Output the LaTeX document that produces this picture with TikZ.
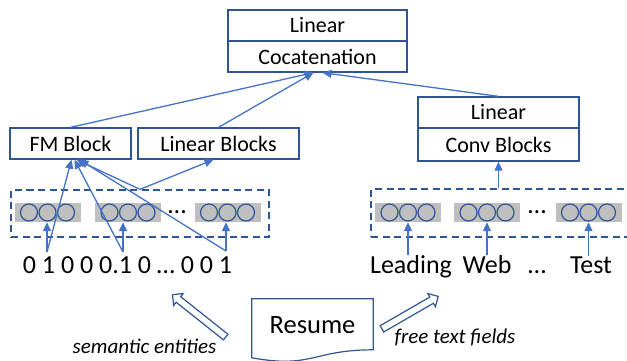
\documentclass[tikz,border=0pt]{standalone}
\usepackage{fontspec}
\setmainfont{Carlito}
\usetikzlibrary{arrows.meta,shapes.arrows,calc}
\definecolor{boxblue}{HTML}{2F5597}
\definecolor{linkblue}{HTML}{4472C4}
\definecolor{cellgray}{HTML}{BFBFBF}
\tikzset{
  block/.style={draw=boxblue, line width=1.3pt, minimum height=31pt, inner sep=0pt, font=\fontsize{22}{26}\selectfont},
  link/.style={draw=linkblue, line width=1.3pt, -{Triangle[width=8pt,length=9pt]}},
  group/.style={fill=cellgray, minimum width=66pt, minimum height=19pt, inner sep=0pt},
  unit/.style={circle, draw=boxblue, line width=1.2pt, minimum size=17pt, inner sep=0pt},
  frame/.style={draw=boxblue, line width=1.3pt, dash pattern=on 7pt off 4.5pt, inner sep=0pt},
  word/.style={font=\fontsize{26}{30}\selectfont, anchor=base, inner sep=0pt},
  note/.style={font=\fontsize{21}{25}\selectfont\itshape, anchor=base, inner sep=0pt},
  hollow/.style={single arrow, draw=boxblue, fill=white, line width=1.2pt, inner sep=3pt, single arrow head extend=4pt, minimum height=68pt}
}
\begin{document}
\begin{tikzpicture}[x=1pt,y=-1pt]
\clip (0,0) rectangle (627,360);
\node[block, minimum width=179pt] (lin1) at (317.5,25.5) {Linear};
\node[block, minimum width=179pt] (concat) at (317.5,56.5) {Cocatenation};
\node[block, minimum width=121pt] (fm) at (70.5,143.5) {FM Block};
\node[block, minimum width=161pt] (linb) at (218.5,143.5) {Linear Blocks};
\node[block, minimum width=161pt] (lin2) at (498.5,112.5) {Linear};
\node[block, minimum width=161pt, minimum height=33pt] (conv) at (498.5,144.5) {Conv Blocks};
\node[frame, minimum width=258pt, minimum height=47pt] (lframe) at (140,213.5) {};
\node[frame, minimum width=269pt, minimum height=48pt] (rframe) at (505.5,213) {};
\foreach \g/\x in {la/47.5, lb/128, lc/227.5, ra/408, rb/487, rc/588.5} {
  \node[group] (\g) at (\x,212.5) {};
  \foreach \d in {-18.5,0,18.5}
    \node[unit] at (\x+\d,212.5) {};
}
\node[word] (ldots) at (177,213) {…};
\node[word] (rdots) at (537,213) {…};
\node[word] (bits) at (127.5,273) {0 1 0 0 0.1 0 … 0 0 1};
\coordinate (b1) at (47,252);
\coordinate (b2) at (123,252);
\coordinate (b3) at (226,251);
\node[word] (lead) at (411,273) {Leading};
\node[word] (web) at (487,273) {Web};
\node[word] (tdots) at (537,273) {…};
\node[word] (test) at (591,273) {Test};
\node[font=\fontsize{26.5}{30}\selectfont, minimum width=121pt, minimum height=52pt, inner sep=0pt] (resume) at (312.5,325) {Resume};
\draw[draw=boxblue, line width=1.2pt] (resume.north west) -- (resume.north east) -- ($(resume.north east)+(0,51)$)
  .. controls ($(resume.north)+(0,51)$) and ($(resume.north)+(0,70)$) .. ($(resume.north west)+(0,59)$) -- cycle;
\node[hollow, rotate=141.5] (sem) at (200.5,317) {};
\node[hollow, rotate=30, minimum height=65pt] (free) at (408.5,313.5) {};
\node[note] (semt) at (144.5,353) {semantic entities};
\node[note] (freet) at (455,343) {free text fields};
\draw[link] (fm.north) -- ([xshift=-4pt]concat.south);
\draw[link] (linb.north) -- ([xshift=-4pt]concat.south);
\draw[link] (lin2.north) -- ([xshift=5pt]concat.south);
\draw[link] (lframe.north) -- ([xshift=6pt]fm.south);
\draw[link] (lframe.north) -- ([xshift=-5pt]linb.south);
\draw[link] (b1) -- ([xshift=1pt]fm.south);
\draw[link] (b2) -- ([xshift=4pt]fm.south);
\draw[link] (b3) -- ([xshift=9pt]fm.south);
\draw[link] (b1) -- (b1 |- la.south);
\draw[link] (b2) -- (b2 |- lb.south);
\draw[link] (b3) -- (b3 |- lc.south);
\draw[link] (ra.south |- lead.north) -- (ra.south);
\draw[link] (rb.south |- web.north) -- (rb.south);
\draw[link] (rc.south |- test.north) -- (rc.south);
\draw[link] (conv.south |- rframe.north) -- (conv.south);
\end{tikzpicture}
\end{document}
